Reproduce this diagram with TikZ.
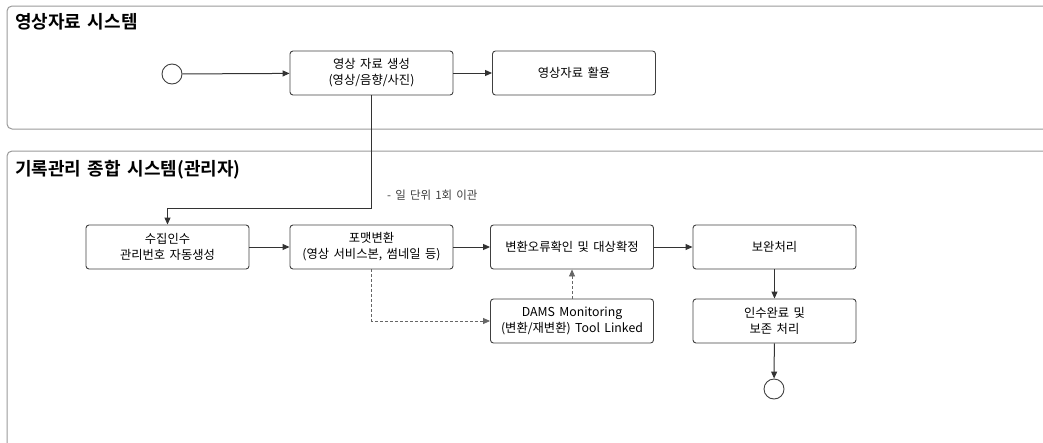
\documentclass[tikz,border=0pt]{standalone}
\usepackage{fontspec}
\setmainfont{Noto Sans CJK KR}[BoldFont={Noto Sans CJK KR Bold}, WordSpace=1.6]
\usetikzlibrary{positioning}
\usetikzlibrary{arrows.meta}
\tikzset{
    mybox/.style = {rectangle, rounded corners=3pt, draw=black!75, line width=0.9pt, minimum width=163pt, minimum height=44pt, inner sep=0pt, align=center, font=\fontsize{12.3}{16}\selectfont, text=black},
    mycirc/.style = {circle, draw=black!75, line width=0.9pt, minimum size=20pt, inner sep=0pt, fill=white},
    panel/.style = {rounded corners=5pt, draw=black!40, line width=1pt},
    mytitle/.style = {anchor=west, inner sep=0pt, font=\fontsize{18}{22}\selectfont\bfseries},
    mynote/.style = {anchor=west, inner sep=0pt, font=\fontsize{11.5}{13}\selectfont, text=black!75},
    edgen/.style = {-{Triangle[length=7pt,width=6pt]}, line width=1pt, black!80},
    edged/.style = {-{Triangle[length=7pt,width=6pt]}, line width=0.8pt, black!60, dash pattern=on 3pt off 2pt}, % monitoring
}

\begin{document}
\begin{tikzpicture}[x=1pt,y=-1pt]
\clip (0,0) rectangle (1043,442);
\draw[panel] (7,6) rectangle (1070,129);
\draw[panel] (7,151) rectangle (1070,470);
\node[mytitle] (t1) at (15,22) {영상자료 시스템};
\node[mytitle] (t2) at (15,170) {기록관리 종합 시스템(관리자)};

\node[mycirc] at (172,74) (start) {};
\node[mybox] at (371.5,73) (gen) {영상 자료 생성\\(영상/음향/사진)};
\node[mybox] at (574,73) (use) {영상자료 활용};
\node[mybox] at (167.5,247) (recv) {수집인수\\관리번호 자동생성};
\node[mybox] at (371.5,247) (fmt) {포맷변환\\(영상 서비스본, 썸네일 등)};
\node[mybox] at (572,247) (chk) {변환오류확인 및 대상확정};
\node[mybox] at (774.5,247) (fix) {보완처리};
\node[mybox] at (572,321) (dams) {DAMS Monitoring\\(변환/재변환) Tool Linked};
\node[mybox] at (774.5,321) (done) {인수완료 및\\보존 처리};
\node[mycirc] at (774,389) (end) {};
\coordinate (turn) at (371.5,208);
\node[mynote] at (387,195) (note) {- 일 단위 1회 이관};

\draw[edgen] (start) -- (gen);
\draw[edgen] (gen) -- (use);
\draw[edgen] (gen) -- (turn) -| (recv);
\draw[edgen] (recv) -- (fmt);
\draw[edgen] (fmt) -- (chk);
\draw[edgen] (chk) -- (fix);
\draw[edgen] (fix) -- (done);
\draw[edgen] (done) -- (end);

\draw[edged] (fmt) |- (dams);
\draw[edged] (dams) -- (chk);

\end{tikzpicture}
\end{document}
